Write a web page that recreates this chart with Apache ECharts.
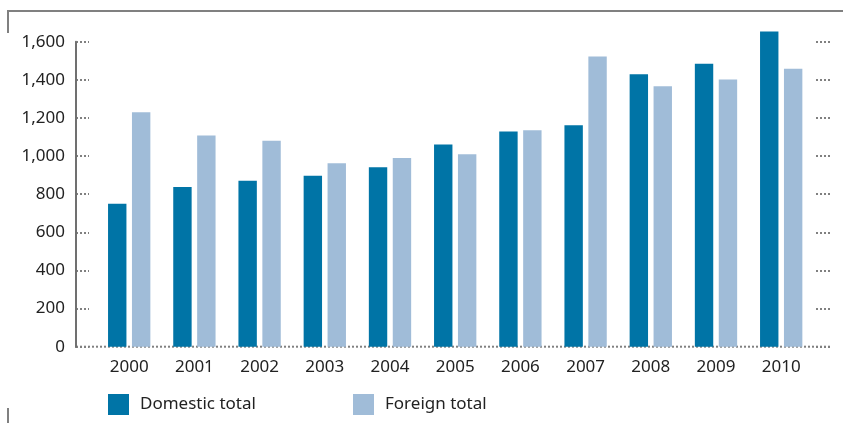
<!DOCTYPE html>
<html><head><meta charset="utf-8">
<script src="https://cdn.jsdelivr.net/npm/echarts@6/dist/echarts.min.js"></script>
<style>html,body{margin:0;padding:0;background:#fff}#c{width:843px;height:423px}</style>
</head><body><div id="c"></div>
<script>
const years = ['2000','2001','2002','2003','2004','2005','2006','2007','2008','2009','2010'];
const domesticTotal = [750, 838, 871, 897, 941, 1061, 1129, 1162, 1429, 1484, 1653];
const foreignTotal = [1230, 1108, 1081, 962, 990, 1010, 1136, 1522, 1366, 1402, 1458];
const seriesNames = ['Domestic total', 'Foreign total'];

const FONT = '"Noto Sans", sans-serif';
const TXT = '#222';
const DOT = '#808080';
const chart = echarts.init(document.getElementById('c'), null, {renderer: 'canvas'});

const tickStyle = {color: DOT, width: 2, type: [2, 2]};
chart.setOption({
  animation: false,
  textStyle: {fontFamily: FONT},
  grid: {left: 96.6, right: 29.2, top: 41.7, bottom: 76.3},
  legend: [
    {data: [seriesNames[0]], left: 108, top: 394, padding: 0, itemWidth: 21, itemHeight: 21, icon: 'rect',
     textStyle: {fontSize: 17, color: TXT, fontFamily: FONT, padding: [0, 0, 0, 6]}},
    {data: [seriesNames[1]], left: 353, top: 394, padding: 0, itemWidth: 21, itemHeight: 21, icon: 'rect',
     textStyle: {fontSize: 17, color: TXT, fontFamily: FONT, padding: [0, 0, 0, 6]}}
  ],
  xAxis: {
    type: 'category', data: years,
    axisLine: {show: false}, axisTick: {show: false},
    axisLabel: {fontSize: 17, color: TXT, margin: 12, fontFamily: FONT}
  },
  yAxis: [
    {
      type: 'value', min: 0, max: 1600, interval: 200, position: 'left', offset: 20.6,
      axisLine: {show: true, onZero: false, lineStyle: {color: '#707070', width: 2}},
      axisTick: {show: true, inside: true, length: 13, lineStyle: tickStyle},
      splitLine: {show: false},
      axisLabel: {fontSize: 17, color: TXT, margin: 11, fontFamily: FONT,
        formatter: v => v.toLocaleString('en-US')}
    },
    {
      type: 'value', min: 0, max: 1600, interval: 200, position: 'right', offset: 16.2,
      axisLine: {show: false},
      axisTick: {show: true, inside: true, length: 14, lineStyle: tickStyle},
      splitLine: {show: false}, axisLabel: {show: false}
    }
  ],
  series: [
    {name: seriesNames[0], type: 'bar', data: domesticTotal, barWidth: 18.4, barGap: '30%', clip: false,
     itemStyle: {color: '#0074A6'}, z: 3},
    {name: seriesNames[1], type: 'bar', data: foreignTotal, barWidth: 18.4, barGap: '30%', clip: false,
     itemStyle: {color: '#A0BCD8'}, z: 3}
  ]
});

const y0 = chart.convertToPixel({yAxisIndex: 0}, 0);
const yTop = chart.convertToPixel({yAxisIndex: 0}, 1600);
chart.setOption({
  graphic: [
    {type: 'line', z: 1, shape: {x1: 76, y1: y0, x2: 830, y2: y0}, style: {stroke: DOT, lineWidth: 2, lineDash: [2, 2]}},
    {type: 'rect', z: 50, shape: {x: 75, y: yTop, width: 2, height: y0 - yTop + 1}, style: {fill: '#707070'}},
    {type: 'polyline', shape: {points: [[8, 33], [8, 11], [843, 11]]}, style: {stroke: '#808080', lineWidth: 2, fill: null}},
    {type: 'line', shape: {x1: 8, y1: 408, x2: 8, y2: 423}, style: {stroke: '#808080', lineWidth: 2}}
  ]
});
</script></body></html>
